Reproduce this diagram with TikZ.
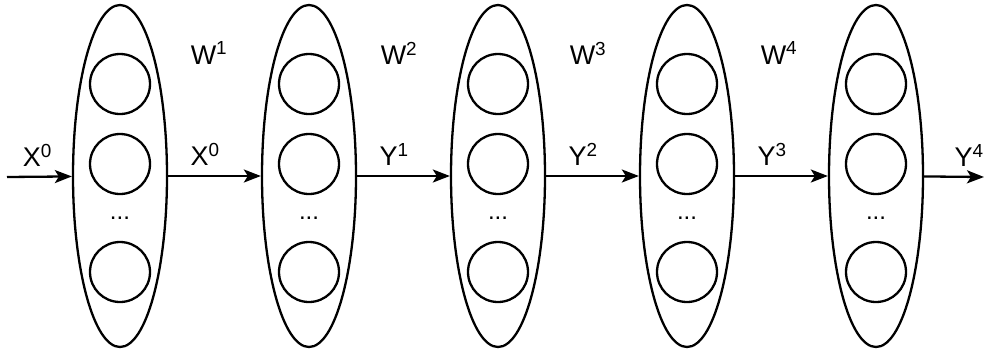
\documentclass[tikz,border=0pt]{standalone}
\usepackage{fontspec}
\setmainfont{Liberation Sans}
\usetikzlibrary{shapes.geometric,arrows.meta}
\newcommand{\layer}[2]{%
 \node (#1) [layerbox] at (#2,176) {};%
 \node (#1a) [neuron] at (#2,84) {};%
 \node (#1b) [neuron] at (#2,164) {};%
 \node (#1c) [neuron] at (#2,272) {};%
 \node (#1d) [anchor=base,font=\fontsize{24}{28}\selectfont] at (#2,219.5) {...};%
}

\begin{document}
\begin{tikzpicture}[x=1pt,y=-1pt,line width=2.3pt,
   every node/.style={font=\fontsize{27}{32}\selectfont},
   layerbox/.style={draw,ellipse,minimum width=94pt,minimum height=342pt,inner sep=0pt},
   neuron/.style={draw,circle,minimum size=60pt,inner sep=0pt},
   lbl/.style={above=9pt,inner sep=0pt},
   conn/.style={-{Stealth[length=17pt,width=13pt,inset=4pt]}}]
   \useasboundingbox (0,0) rectangle (985,349);
   \layer{L1}{120}
   \layer{L2}{309}
   \layer{L3}{498}
   \layer{L4}{687}
   \layer{L5}{876}
   \coordinate (in) at (7,177);
   \coordinate (out) at (984,177);
   \node (W1) at (209,53) {W\textsuperscript{1}};
   \node (W2) at (399,53) {W\textsuperscript{2}};
   \node (W3) at (588,53) {W\textsuperscript{3}};
   \node (W4) at (779,53) {W\textsuperscript{4}};
   \draw[conn] (in) -- node[lbl,pos=.47] {X\textsuperscript{0}} (L1);
   \draw[conn] (L1) -- node[lbl,pos=.4] {X\textsuperscript{0}} (L2);
   \draw[conn] (L2) -- node[lbl,pos=.4] {Y\textsuperscript{1}} (L3);
   \draw[conn] (L3) -- node[lbl,pos=.4] {Y\textsuperscript{2}} (L4);
   \draw[conn] (L4) -- node[lbl,pos=.4] {Y\textsuperscript{3}} (L5);
   \draw[conn] (L5) -- node[lbl,pos=.75] {Y\textsuperscript{4}} (out);
  \end{tikzpicture}
\end{document}
